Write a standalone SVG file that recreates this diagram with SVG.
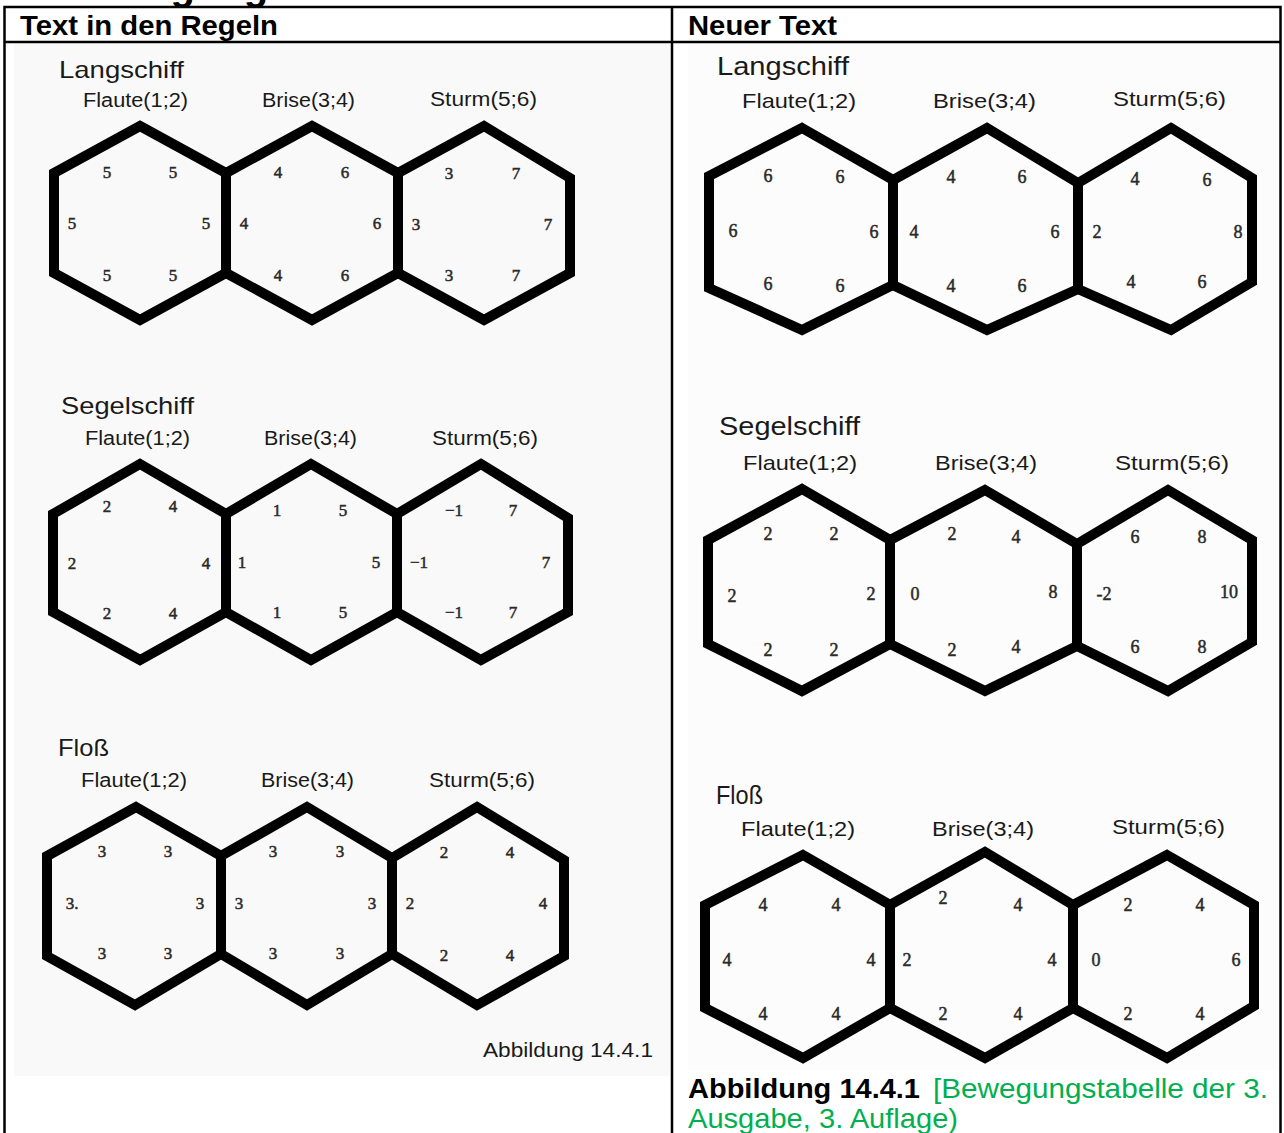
<svg xmlns="http://www.w3.org/2000/svg" width="1284" height="1133" viewBox="0 0 1284 1133">
<style>
.hx{fill:none;stroke:#000;stroke-width:10;stroke-linejoin:miter}
.n{font-family:"Liberation Serif","Times New Roman",serif;font-size:17px;fill:#2a2a2a;stroke:#2a2a2a;stroke-width:0.5;text-anchor:middle}
.nr{font-family:"Liberation Serif","Times New Roman",serif;font-size:18px;fill:#2a2a2a;stroke:#2a2a2a;stroke-width:0.5;text-anchor:middle}
.t{font-family:"Liberation Sans",Arial,sans-serif;fill:#1a1a1a}
.h{font-family:"Liberation Sans",Arial,sans-serif;font-weight:bold;font-size:28.5px;fill:#000}
.tl{stroke:#000;stroke-width:2.5;fill:none}
</style>
<rect width="1284" height="1133" fill="#fff"/>
<g id="title-fragment"><text x="66" y="0" style="font-family:'Liberation Sans',Arial,sans-serif;font-weight:bold;font-size:40px" fill="#000">Bewegung</text></g>
<g id="table">
<rect x="4.5" y="7" width="1276" height="1140" class="tl"/>
<line x1="4.5" y1="42" x2="1280.5" y2="42" class="tl"/>
<line x1="672" y1="7" x2="672" y2="1133" class="tl"/>
<text x="20" y="35" class="h" textLength="258" lengthAdjust="spacingAndGlyphs">Text in den Regeln</text>
<text x="688" y="35" class="h" textLength="149" lengthAdjust="spacingAndGlyphs">Neuer Text</text>
</g>
<rect x="14" y="44" width="656" height="1032" fill="#f9f9f9"/>
<rect x="688" y="44" width="590" height="1026" fill="#fcfcfc"/>

<!-- LEFT: Langschiff -->
<g id="left-langschiff">
<text x="59" y="78" class="t" font-size="24" textLength="125" lengthAdjust="spacingAndGlyphs">Langschiff</text>
<text x="83" y="107" class="t" font-size="20" textLength="105" lengthAdjust="spacingAndGlyphs">Flaute(1;2)</text>
<text x="262" y="107" class="t" font-size="20" textLength="93" lengthAdjust="spacingAndGlyphs">Brise(3;4)</text>
<text x="430" y="106" class="t" font-size="20" textLength="107" lengthAdjust="spacingAndGlyphs">Sturm(5;6)</text>
<polygon class="hx" points="140,126 226,173 226,273 140,320 54,273 54,173"/>
<polygon class="hx" points="312,126 398,173 398,273 312,320 226,273 226,173"/>
<polygon class="hx" points="484,126 570,178 570,273 484,320 398,273 398,173"/>
<g class="n">
<text x="107" y="178">5</text><text x="173" y="178">5</text><text x="72" y="229">5</text><text x="206" y="229">5</text><text x="107" y="281">5</text><text x="173" y="281">5</text>
<text x="278" y="178">4</text><text x="345" y="178">6</text><text x="244" y="229">4</text><text x="377" y="229">6</text><text x="278" y="281">4</text><text x="345" y="281">6</text>
<text x="449" y="179">3</text><text x="516" y="179">7</text><text x="416" y="230">3</text><text x="548" y="230">7</text><text x="449" y="281">3</text><text x="516" y="281">7</text>
</g>
</g>

<!-- LEFT: Segelschiff -->
<g id="left-segelschiff">
<text x="61" y="414" class="t" font-size="24" textLength="133" lengthAdjust="spacingAndGlyphs">Segelschiff</text>
<text x="85" y="445" class="t" font-size="20" textLength="105" lengthAdjust="spacingAndGlyphs">Flaute(1;2)</text>
<text x="264" y="445" class="t" font-size="20" textLength="93" lengthAdjust="spacingAndGlyphs">Brise(3;4)</text>
<text x="432" y="445" class="t" font-size="20" textLength="106" lengthAdjust="spacingAndGlyphs">Sturm(5;6)</text>
<polygon class="hx" points="140,464 226,514 226,612 140,660 53,612 53,514"/>
<polygon class="hx" points="311,464 397,514 397,612 311,660 226,612 226,514"/>
<polygon class="hx" points="481,464 568,518 568,612 481,660 397,612 397,514"/>
<g class="n">
<text x="107" y="512">2</text><text x="173" y="512">4</text><text x="72" y="569">2</text><text x="206" y="569">4</text><text x="107" y="619">2</text><text x="173" y="619">4</text>
<text x="277" y="516">1</text><text x="343" y="516">5</text><text x="242" y="568">1</text><text x="376" y="568">5</text><text x="277" y="618">1</text><text x="343" y="618">5</text>
<text x="454" y="516">−1</text><text x="513" y="516">7</text><text x="419" y="568">−1</text><text x="546" y="568">7</text><text x="454" y="618">−1</text><text x="513" y="618">7</text>
</g>
</g>

<!-- LEFT: Floss -->
<g id="left-floss">
<text x="58" y="756" class="t" font-size="24" textLength="51" lengthAdjust="spacingAndGlyphs">Floß</text>
<text x="81" y="787" class="t" font-size="20" textLength="106" lengthAdjust="spacingAndGlyphs">Flaute(1;2)</text>
<text x="261" y="787" class="t" font-size="20" textLength="93" lengthAdjust="spacingAndGlyphs">Brise(3;4)</text>
<text x="429" y="787" class="t" font-size="20" textLength="106" lengthAdjust="spacingAndGlyphs">Sturm(5;6)</text>
<polygon class="hx" points="136,807 221,856 221,954 135,1005 47,956 47,856"/>
<polygon class="hx" points="307,807 392,858 392,954 307,1005 221,954 221,856"/>
<polygon class="hx" points="477,807 564,860 564,956 477,1005 392,954 392,858"/>
<g class="n">
<text x="102" y="857">3</text><text x="168" y="857">3</text><text x="72" y="909">3.</text><text x="200" y="909">3</text><text x="102" y="959">3</text><text x="168" y="959">3</text>
<text x="273" y="857">3</text><text x="340" y="857">3</text><text x="239" y="909">3</text><text x="372" y="909">3</text><text x="273" y="959">3</text><text x="340" y="959">3</text>
<text x="444" y="858">2</text><text x="510" y="858">4</text><text x="410" y="909">2</text><text x="543" y="909">4</text><text x="444" y="961">2</text><text x="510" y="961">4</text>
</g>
<text x="483" y="1057" class="t" font-size="20" textLength="170" lengthAdjust="spacingAndGlyphs">Abbildung 14.4.1</text>
</g>

<!-- RIGHT: Langschiff -->
<g id="right-langschiff">
<text x="717" y="75" class="t" font-size="25" textLength="132" lengthAdjust="spacingAndGlyphs">Langschiff</text>
<text x="742" y="108" class="t" font-size="21" textLength="114" lengthAdjust="spacingAndGlyphs">Flaute(1;2)</text>
<text x="933" y="108" class="t" font-size="21" textLength="103" lengthAdjust="spacingAndGlyphs">Brise(3;4)</text>
<text x="1113" y="106" class="t" font-size="21" textLength="113" lengthAdjust="spacingAndGlyphs">Sturm(5;6)</text>
<polygon class="hx" points="802,128 893,180 893,285 802,330 709,288 709,176"/>
<polygon class="hx" points="987,128 1078,183 1078,289 987,330 893,285 893,180"/>
<polygon class="hx" points="1171,128 1252,178 1252,282 1171,330 1078,289 1078,183"/>
<g class="nr">
<text x="768" y="182">6</text><text x="840" y="183">6</text><text x="733" y="237">6</text><text x="874" y="238">6</text><text x="768" y="290">6</text><text x="840" y="292">6</text>
<text x="951" y="183">4</text><text x="1022" y="183">6</text><text x="914" y="238">4</text><text x="1055" y="238">6</text><text x="951" y="292">4</text><text x="1022" y="292">6</text>
<text x="1135" y="185">4</text><text x="1207" y="186">6</text><text x="1097" y="238">2</text><text x="1238" y="238">8</text><text x="1131" y="288">4</text><text x="1202" y="288">6</text>
</g>
</g>

<!-- RIGHT: Segelschiff -->
<g id="right-segelschiff">
<text x="719" y="435" class="t" font-size="25" textLength="141" lengthAdjust="spacingAndGlyphs">Segelschiff</text>
<text x="743" y="470" class="t" font-size="21" textLength="114" lengthAdjust="spacingAndGlyphs">Flaute(1;2)</text>
<text x="935" y="470" class="t" font-size="21" textLength="102" lengthAdjust="spacingAndGlyphs">Brise(3;4)</text>
<text x="1115" y="470" class="t" font-size="21" textLength="114" lengthAdjust="spacingAndGlyphs">Sturm(5;6)</text>
<polygon class="hx" points="802,489 890,540 890,644 802,691 708,644 708,540"/>
<polygon class="hx" points="985,490 1077,544 1077,646 985,691 890,644 890,540"/>
<polygon class="hx" points="1168,490 1252,540 1252,642 1168,691 1077,646 1077,544"/>
<g class="nr">
<text x="768" y="540">2</text><text x="834" y="540">2</text><text x="732" y="602">2</text><text x="871" y="600">2</text><text x="768" y="656">2</text><text x="834" y="656">2</text>
<text x="952" y="540">2</text><text x="1016" y="543">4</text><text x="915" y="600">0</text><text x="1053" y="598">8</text><text x="952" y="656">2</text><text x="1016" y="653">4</text>
<text x="1135" y="543">6</text><text x="1202" y="543">8</text><text x="1104" y="600">-2</text><text x="1229" y="598">10</text><text x="1135" y="653">6</text><text x="1202" y="653">8</text>
</g>
</g>

<!-- RIGHT: Floss -->
<g id="right-floss">
<text x="716" y="804" class="t" font-size="25" textLength="47" lengthAdjust="spacingAndGlyphs">Floß</text>
<text x="741" y="836" class="t" font-size="21" textLength="114" lengthAdjust="spacingAndGlyphs">Flaute(1;2)</text>
<text x="932" y="836" class="t" font-size="21" textLength="102" lengthAdjust="spacingAndGlyphs">Brise(3;4)</text>
<text x="1112" y="834" class="t" font-size="21" textLength="113" lengthAdjust="spacingAndGlyphs">Sturm(5;6)</text>
<polygon class="hx" points="803,855 890,905 890,1008 803,1058 705,1008 705,905"/>
<polygon class="hx" points="985,852 1073,905 1073,1008 985,1058 890,1008 890,905"/>
<polygon class="hx" points="1167,855 1254,905 1254,1006 1167,1058 1073,1008 1073,905"/>
<g class="nr">
<text x="763" y="911">4</text><text x="836" y="911">4</text><text x="727" y="966">4</text><text x="871" y="966">4</text><text x="763" y="1020">4</text><text x="836" y="1020">4</text>
<text x="943" y="904">2</text><text x="1018" y="911">4</text><text x="907" y="966">2</text><text x="1052" y="966">4</text><text x="943" y="1020">2</text><text x="1018" y="1020">4</text>
<text x="1128" y="911">2</text><text x="1200" y="911">4</text><text x="1096" y="966">0</text><text x="1236" y="966">6</text><text x="1128" y="1020">2</text><text x="1200" y="1020">4</text>
</g>
</g>

<g id="caption" font-family="'Liberation Sans',Arial,sans-serif" font-size="28">
<text x="688" y="1098" font-weight="bold" fill="#000" textLength="232" lengthAdjust="spacingAndGlyphs">Abbildung 14.4.1</text>
<text x="933" y="1098" fill="#00b050" textLength="335" lengthAdjust="spacingAndGlyphs">[Bewegungstabelle der 3.</text>
<text x="688" y="1128" fill="#00b050" textLength="270" lengthAdjust="spacingAndGlyphs">Ausgabe, 3. Auflage)</text>
</g>
<g id="connectors"/>
</svg>
